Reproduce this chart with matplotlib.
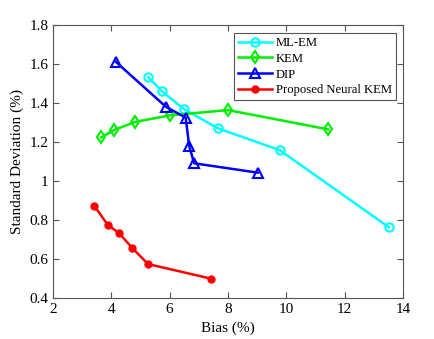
import matplotlib.pyplot as plt

plt.rcParams['font.family'] = ['Liberation Serif', 'DejaVu Serif']

# data
mlem_x = [5.27, 5.74, 6.49, 7.66, 9.77, 13.52]
mlem_y = [1.532, 1.46, 1.369, 1.27, 1.159, 0.763]

kem_x = [3.65, 4.10, 4.81, 6.01, 8.0, 11.44]
kem_y = [1.224, 1.262, 1.303, 1.337, 1.364, 1.265]

dip_x = [4.15, 5.87, 6.55, 6.67, 6.84, 9.02]
dip_y = [1.612, 1.381, 1.325, 1.18, 1.091, 1.043]

nkem_x = [3.42, 3.87, 4.27, 4.72, 5.26, 7.42]
nkem_y = [0.872, 0.776, 0.732, 0.656, 0.574, 0.499]

fig = plt.figure(figsize=(4.35, 3.39), dpi=100)
ax = fig.add_axes([0.122, 0.121, 0.804, 0.805])

ax.plot(mlem_x, mlem_y, color='cyan', lw=1.8, marker='o', ms=6,
        mfc='none', mew=1.5, label='ML-EM')
ax.plot(kem_x, kem_y, color='#00ee00', lw=1.8, marker='d', ms=6,
        mfc='none', mew=1.5, label='KEM')
ax.plot(dip_x, dip_y, color='blue', lw=1.8, marker='^', ms=7,
        mfc='none', mew=1.5, label='DIP')
ax.plot(nkem_x, nkem_y, color='red', lw=1.8, marker='o', ms=5,
        label='Proposed Neural KEM')

ax.set_xlim(2, 14)
ax.set_ylim(0.4, 1.8)
ax.set_xticks([2, 4, 6, 8, 10, 12, 14])
ax.set_yticks([0.4, 0.6, 0.8, 1, 1.2, 1.4, 1.6, 1.8])
ax.set_yticklabels(['0.4', '0.6', '0.8', '1', '1.2', '1.4', '1.6', '1.8'])
ax.tick_params(direction='in', top=True, right=True, labelsize=11,
               color='#555555', length=4)
for s in ax.spines.values():
    s.set_color('#555555')
    s.set_linewidth(0.8)

ax.set_xlabel('Bias (%)', fontsize=11)
ax.set_ylabel('Standard Deviation (%)', fontsize=11)

leg = ax.legend(loc='upper right', bbox_to_anchor=(0.98, 0.97),
                fontsize=9.1, fancybox=False, framealpha=1,
                edgecolor='#555555', handlelength=2.7, borderpad=0.3,
                labelspacing=0.3, handletextpad=0.3, borderaxespad=0)
leg.get_frame().set_linewidth(0.8)

fig.savefig('out.png', dpi=100)
